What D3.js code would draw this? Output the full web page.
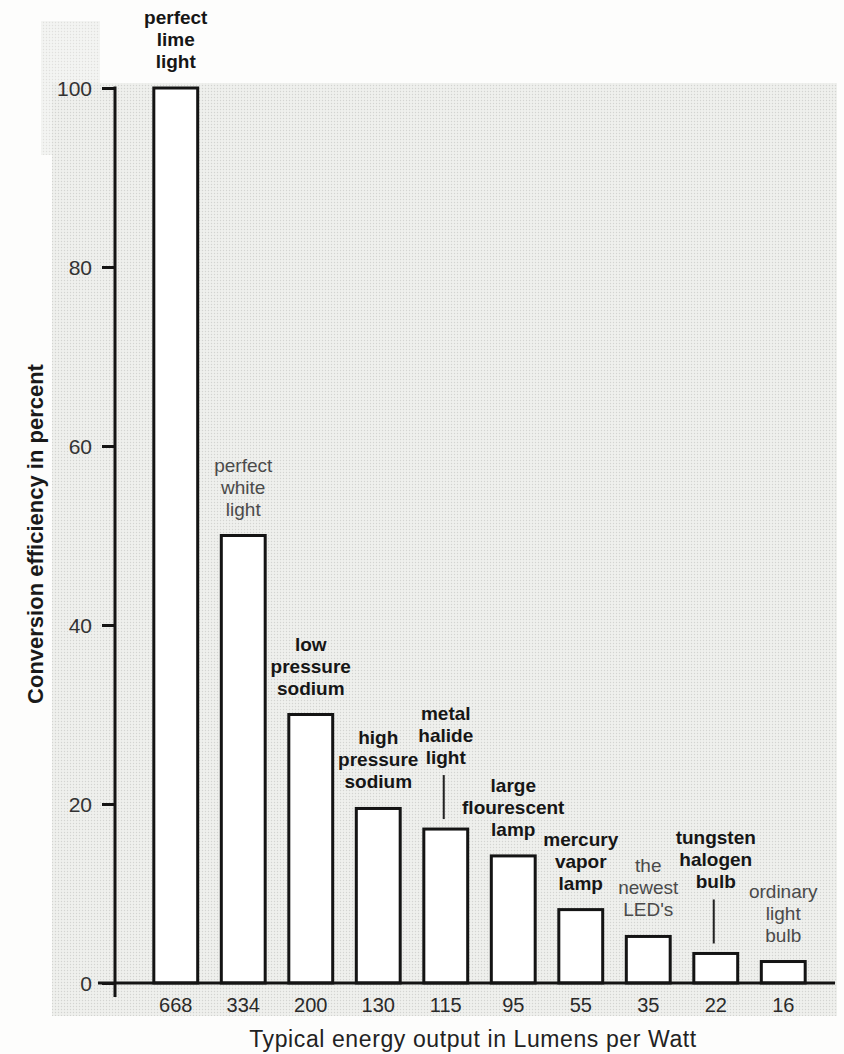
<!DOCTYPE html>
<html>
<head>
<meta charset="utf-8">
<script src="https://cdnjs.cloudflare.com/ajax/libs/d3/7.8.5/d3.min.js"></script>
<style>
  body { margin: 0; padding: 0; background: #fdfdfc; }
  svg text { font-family: "Liberation Sans", Arial, Helvetica, sans-serif; }
</style>
</head>
<body>
<script>
// lamps, left to right
var lumens = ["668", "334", "200", "130", "115", "95", "55", "35", "22", "16"];
var efficiency = [100, 50, 30, 19.5, 17.2, 14.2, 8.2, 5.2, 3.3, 2.4];
var labels = [
  ["perfect", "lime", "light"],
  ["perfect", "white", "light"],
  ["low", "pressure", "sodium"],
  ["high", "pressure", "sodium"],
  ["metal", "halide", "light"],
  ["large", "flourescent", "lamp"],
  ["mercury", "vapor", "lamp"],
  ["the", "newest", "LED's"],
  ["tungsten", "halogen", "bulb"],
  ["ordinary", "light", "bulb"]
];
var boldLabel = [true, false, true, true, true, true, true, false, true, false];
var hasPointer = [false, false, false, false, true, false, false, false, true, false];
var yTicks = [0, 20, 40, 60, 80, 100];

var width = 844, height = 1054;

var svg = d3.select("body").append("svg")
    .attr("width", width)
    .attr("height", height);

// halftone look of the printed page
var defs = svg.append("defs");
var pat = defs.append("pattern")
    .attr("id", "halftone")
    .attr("width", 3).attr("height", 3)
    .attr("patternUnits", "userSpaceOnUse");
pat.append("rect").attr("width", 3).attr("height", 3).attr("fill", "#eff0ed");
pat.append("circle").attr("cx", 1.5).attr("cy", 1.5).attr("r", 0.7).attr("fill", "#d3d4d1");

svg.append("rect")
    .attr("x", 41).attr("y", 21).attr("width", 59).attr("height", 134)
    .attr("fill", "url(#halftone)").attr("opacity", 0.7);
svg.append("rect")
    .attr("x", 52).attr("y", 83).attr("width", 785).attr("height", 933)
    .attr("fill", "url(#halftone)");

var x = d3.scaleBand()
    .domain(d3.range(lumens.length))
    .range([142, 817])
    .paddingInner(0.35)
    .paddingOuter(0.175);

var y = d3.scaleLinear()
    .domain([0, 100])
    .range([983, 88]);

// bars
svg.selectAll(".bar")
  .data(efficiency)
  .enter().append("rect")
    .attr("class", "bar")
    .attr("x", (d, i) => x(i))
    .attr("y", d => y(d))
    .attr("width", x.bandwidth())
    .attr("height", d => y(0) - y(d))
    .attr("fill", "#fff")
    .attr("stroke", "#141414")
    .attr("stroke-width", 3);

// y axis
var yAxis = svg.append("g")
    .attr("transform", "translate(115,0)")
    .call(d3.axisLeft(y).tickValues(yTicks).tickSize(13).tickPadding(10).tickSizeOuter(0));
yAxis.select(".domain").remove();
yAxis.selectAll(".tick line").attr("stroke", "#141414").attr("stroke-width", 3);
yAxis.selectAll(".tick text")
    .attr("fill", "#333")
    .style("font-size", "21px")
    .attr("dy", "0.36em");

svg.append("line")
    .attr("x1", 115).attr("x2", 115)
    .attr("y1", y(100) - 1.5).attr("y2", 997)
    .attr("stroke", "#141414").attr("stroke-width", 3);

// x axis
svg.append("line")
    .attr("x1", 98).attr("x2", 835)
    .attr("y1", y(0)).attr("y2", y(0))
    .attr("stroke", "#141414").attr("stroke-width", 3);

var xAxis = svg.append("g")
    .attr("transform", "translate(0," + y(0) + ")")
    .call(d3.axisBottom(x).tickFormat(i => lumens[i]).tickSize(0).tickPadding(15));
xAxis.select(".domain").remove();
xAxis.selectAll(".tick text")
    .attr("fill", "#2a2a2a")
    .style("font-size", "20px");

// labels above the bars
var lineH = 22;
svg.selectAll(".label")
  .data(labels)
  .enter().append("text")
    .attr("class", "label")
    .attr("text-anchor", "middle")
    .attr("fill", (d, i) => boldLabel[i] ? "#161616" : "#4a4a4a")
    .style("font-weight", (d, i) => boldLabel[i] ? "bold" : "normal")
    .style("font-size", "19px")
    .each(function(lines, i) {
      var last = y(efficiency[i]) - (hasPointer[i] ? 65 : 20);
      var cx = x(i) + x.bandwidth() / 2;
      d3.select(this).selectAll("tspan")
        .data(lines)
        .enter().append("tspan")
          .attr("x", cx)
          .attr("y", (l, k) => last - (lines.length - 1 - k) * lineH)
          .text(l => l);
    });

// little pointer lines
svg.selectAll(".pointer")
  .data(efficiency.map((d, i) => i).filter(i => hasPointer[i]))
  .enter().append("line")
    .attr("class", "pointer")
    .attr("x1", i => x(i) + x.bandwidth() / 2 - 2)
    .attr("x2", i => x(i) + x.bandwidth() / 2 - 2)
    .attr("y1", i => y(efficiency[i]) - 54)
    .attr("y2", i => y(efficiency[i]) - 10)
    .attr("stroke", "#222")
    .attr("stroke-width", 2);

// axis titles
svg.append("text")
    .attr("x", 473).attr("y", 1047)
    .attr("text-anchor", "middle")
    .attr("fill", "#222")
    .style("font-size", "23px")
    .style("letter-spacing", "0.6px")
    .text("Typical energy output in Lumens per Watt");

svg.append("text")
    .attr("transform", "translate(43,534)rotate(-90)")
    .attr("text-anchor", "middle")
    .attr("fill", "#1a1a1a")
    .style("font-size", "22px")
    .style("font-weight", "bold")
    .text("Conversion efficiency in percent");
</script>
</body>
</html>
